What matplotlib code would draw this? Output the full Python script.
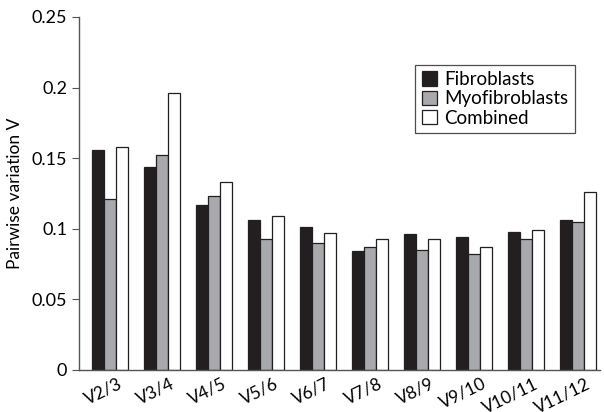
import matplotlib
matplotlib.use("Agg")
import matplotlib.pyplot as plt
import numpy as np

categories = ["V2/3", "V3/4", "V4/5", "V5/6", "V6/7", "V7/8", "V8/9", "V9/10", "V10/11", "V11/12"]
fibroblasts = [0.156, 0.144, 0.117, 0.106, 0.101, 0.084, 0.096, 0.094, 0.098, 0.106]
myofibroblasts = [0.121, 0.152, 0.123, 0.093, 0.090, 0.087, 0.085, 0.082, 0.093, 0.105]
combined = [0.158, 0.196, 0.133, 0.109, 0.097, 0.093, 0.093, 0.087, 0.099, 0.126]
series_names = ["Fibroblasts", "Myofibroblasts", "Combined"]
yticks = [0, 0.05, 0.1, 0.15, 0.2, 0.25]
ytick_labels = ["0", "0.05", "0.1", "0.15", "0.2", "0.25"]

plt.rcParams['font.family'] = ['Lato', 'DejaVu Sans']

fig = plt.figure(figsize=(6.04, 4.12), dpi=100)
ax = fig.add_axes([0.131, 0.102, 0.862, 0.857])

x = np.arange(len(categories))
w = 0.23
colors = ["#231f20", "#a7a9ac", "#ffffff"]
for i, (vals, name) in enumerate(zip([fibroblasts, myofibroblasts, combined], series_names)):
    ax.bar(x + (i - 1) * w, vals, width=w, color=colors[i], edgecolor="#231f20",
           linewidth=0.9, label=name)

ax.set_ylim(0, 0.25)
ax.set_xlim(-0.6, 9.42)
ax.set_yticks(yticks)
ax.set_yticklabels(ytick_labels)
ax.set_xticks(x + 0.15)
ax.set_xticklabels(categories, rotation=26, ha="right", rotation_mode="anchor")
ax.tick_params(axis="x", length=0, labelsize=12.5, pad=4)
ax.tick_params(axis="y", direction="out", length=5, labelsize=13, color="#555555")
for s in ["top", "right"]:
    ax.spines[s].set_visible(False)
for s in ["left", "bottom"]:
    ax.spines[s].set_color("#555555")
    ax.spines[s].set_linewidth(1.0)
ax.set_ylabel("Pairwise variation V", fontsize=12.5, labelpad=6)

leg = ax.legend(loc="upper right", bbox_to_anchor=(0.952, 0.865), fontsize=13.5,
                frameon=True, fancybox=False, edgecolor="#231f20",
                handlelength=0.8, handleheight=0.8, handletextpad=0.4,
                labelspacing=0.12, borderpad=0.35, borderaxespad=0)
leg.get_frame().set_linewidth(0.9)

fig.savefig("out.png", dpi=100, facecolor="white")
